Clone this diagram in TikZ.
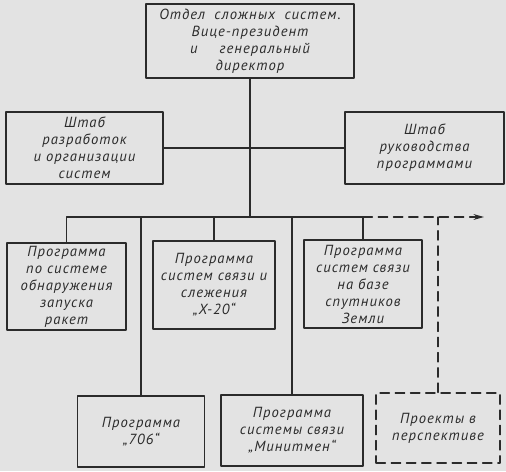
\documentclass[tikz,border=0pt]{standalone}
\usepackage{fontspec}
\setmainfont{PT Sans}[LetterSpace=7]
\usetikzlibrary{arrows.meta}
\definecolor{paper}{HTML}{E3E3E3}
\definecolor{ink}{HTML}{2B2B2B}

\begin{document}
\begin{tikzpicture}[x=0.03cm, y=-0.03cm, >=Stealth, line cap=round, line join=round,
	font=\fontsize{12.5}{14.5}\selectfont\itshape,
	box/.style={draw=ink, line width=1.1pt, text=ink, align=center, inner sep=2pt},
	dbox/.style={box, dash pattern=on 8pt off 5pt},
	wire/.style={draw=ink, line width=1.1pt}]

% ==== Paper ====
\fill[paper] (0,0) rectangle (506,471);
\useasboundingbox (0,0) rectangle (506,471);

% ==== Top level ====
\node[box, minimum width=208*0.03cm, minimum height=74*0.03cm] (otdel) at (250,41)
	{Отдел\hspace{0.3em} сложных\hspace{0.3em} систем.\\ Вице-президент\\ и\hspace{1.5em}генеральный\\ директор};

% ==== Staffs ====
\node[box, minimum width=157*0.03cm, minimum height=72*0.03cm] (razrab) at (84.5,148)
	{Штаб\\ разработок\\ и организации\\ систем};
\node[box, minimum width=159*0.03cm, minimum height=72*0.03cm] (rukov) at (424.5,148)
	{Штаб\\ руководства\\ программами};

% ==== Programs, upper row ====
\node[box, minimum width=119*0.03cm, minimum height=87*0.03cm] (raket) at (66.5,286.5)
	{Программа\\ по системе\\ обнаружения\\ запуска\\ ракет};
\node[box, minimum width=122*0.03cm, minimum height=88*0.03cm] (xtwenty) at (214,285)
	{Программа\\ систем связи и\\ слежения\\ „X-20“};
\node[box, minimum width=118*0.03cm, minimum height=88*0.03cm] (zemli) at (363,284)
	{Программа\\ систем связи\\ на базе\\ спутников\\ Земли};

% ==== Programs, lower row ====
\node[box, minimum width=127*0.03cm, minimum height=71*0.03cm] (pseven) at (141,431.5)
	{Программа\\ „706“};
\node[box, minimum width=142*0.03cm, minimum height=71*0.03cm] (minit) at (292,430.5)
	{Программа\\ системы связи\\ „Минитмен“};
\node[dbox, minimum width=124*0.03cm, minimum height=70*0.03cm] (persp) at (438,428)
	{Проекты в\\ перспективе};

% ==== Connectors ====
\coordinate (bus) at (0,217);
\coordinate (busend) at (484,217);
\draw[wire] (razrab.east) -- (rukov.west);
\draw[wire] (otdel.south) -- (otdel.south |- bus);
\draw[wire] (raket.north) |- (zemli.north |- bus) -- (zemli.north);
\draw[wire] (xtwenty.north) -- (xtwenty.north |- bus);
\draw[wire] (pseven.north) -- (pseven.north |- bus);
\draw[wire] (minit.north) -- (minit.north |- bus);
\draw[wire, dash pattern=on 8pt off 5pt, -{Stealth[length=9pt, width=5pt]}] (zemli.north |- bus) -- (busend);
\draw[wire, dash pattern=on 8pt off 5pt] (persp.north) -- (persp.north |- bus);

\end{tikzpicture}
\end{document}
